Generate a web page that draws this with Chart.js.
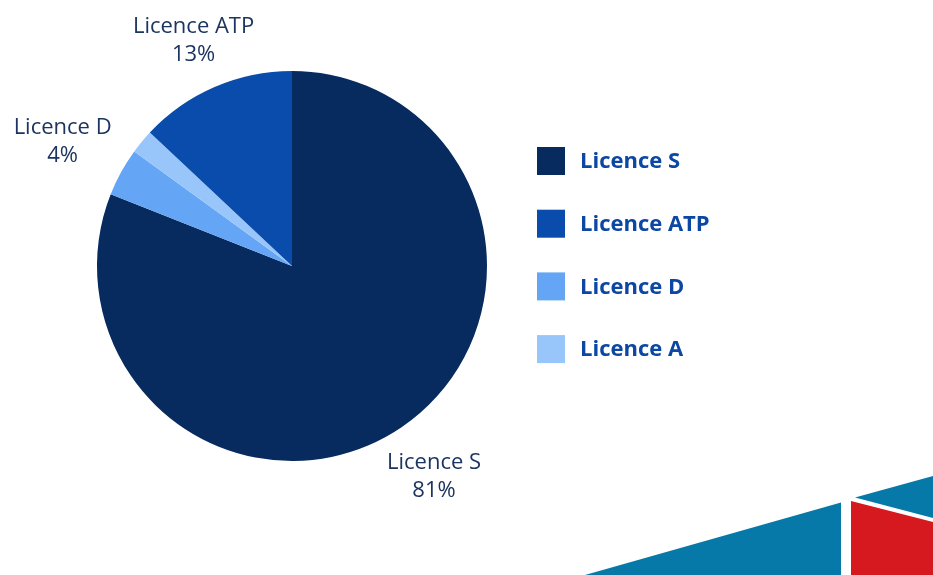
<!DOCTYPE html>
<html>
<head>
<meta charset="utf-8">
<script src="https://cdn.jsdelivr.net/npm/chart.js@4/dist/chart.umd.min.js"></script>
<style>
  html, body { margin: 0; padding: 0; background: #ffffff; }
  #wrap { width: 933px; height: 575px; position: relative; }
</style>
</head>
<body>
<div id="wrap"><canvas id="c" width="933" height="575"></canvas></div>
<script>
// Data (drawing order, clockwise from 12 o'clock)
const categories = ["Licence S", "Licence D", "Licence A", "Licence ATP"];
const shares = [81, 4, 2, 13];
const sliceColors = ["#072b5e", "#64a6f5", "#98c6fa", "#0a4cab"];
// Legend order (indices into categories)
const legendOrder = [0, 3, 1, 2];
// Only slices at least this large get an outside label
const minLabelShare = 3;

const outsideLabels = {
  id: 'outsideLabels',
  afterDatasetsDraw(chart) {
    const ctx = chart.ctx;
    const meta = chart.getDatasetMeta(0);
    ctx.save();
    ctx.fillStyle = '#1c3560';
    ctx.font = '22px "Open Sans", Lato, sans-serif';
    ctx.textAlign = 'center';
    ctx.textBaseline = 'middle';
    meta.data.forEach((arc, i) => {
      const v = chart.data.datasets[0].data[i];
      if (v < minLabelShare) return;
      const p = arc.getProps(['x', 'y', 'startAngle', 'endAngle', 'outerRadius'], true);
      const mid = (p.startAngle + p.endAngle) / 2;
      const dx = Math.cos(mid), dy = Math.sin(mid);
      const d = p.outerRadius * 1.212 + Math.abs(dx) * 29;
      const cx = p.x + dx * d, cy = p.y + dy * d;
      ctx.fillText(chart.data.labels[i], cx, cy - 12);
      ctx.fillText(v + '%', cx, cy + 16);
    });
    ctx.restore();
  }
};

const sideLegend = {
  id: 'sideLegend',
  afterDraw(chart) {
    const ctx = chart.ctx;
    const ds = chart.data.datasets[0];
    ctx.save();
    ctx.font = 'bold 22px "Open Sans", Lato, sans-serif';
    ctx.textBaseline = 'middle';
    ctx.textAlign = 'left';
    const x0 = 537, y0 = 161, step = 62.7, box = 28;
    legendOrder.forEach((idx, k) => {
      const y = y0 + k * step;
      ctx.fillStyle = ds.backgroundColor[idx];
      ctx.fillRect(x0, y - box / 2, box, box);
      ctx.fillStyle = '#0b47a3';
      ctx.fillText(chart.data.labels[idx], x0 + 43, y + 1);
    });
    ctx.restore();
  }
};

const decor = {
  id: 'decor',
  beforeDraw(chart) {
    const ctx = chart.ctx;
    ctx.save();
    ctx.fillStyle = '#0679a8';
    ctx.beginPath();
    ctx.moveTo(585, 575); ctx.lineTo(841, 502.5); ctx.lineTo(841, 575); ctx.closePath();
    ctx.fill();
    ctx.beginPath();
    ctx.moveTo(855, 497.5); ctx.lineTo(933, 476); ctx.lineTo(933, 518); ctx.closePath();
    ctx.fill();
    ctx.fillStyle = '#d6181f';
    ctx.beginPath();
    ctx.moveTo(851, 501); ctx.lineTo(933, 522); ctx.lineTo(933, 575); ctx.lineTo(851, 575); ctx.closePath();
    ctx.fill();
    ctx.restore();
  }
};

new Chart(document.getElementById('c'), {
  type: 'pie',
  data: {
    labels: categories,
    datasets: [{
      data: shares,
      backgroundColor: sliceColors,
      borderWidth: 0
    }]
  },
  options: {
    responsive: false,
    animation: false,
    layout: { padding: { left: 97, top: 71, right: 446, bottom: 114 } },
    plugins: {
      legend: { display: false },
      tooltip: { enabled: false }
    }
  },
  plugins: [decor, outsideLabels, sideLegend]
});
</script>
</body>
</html>
